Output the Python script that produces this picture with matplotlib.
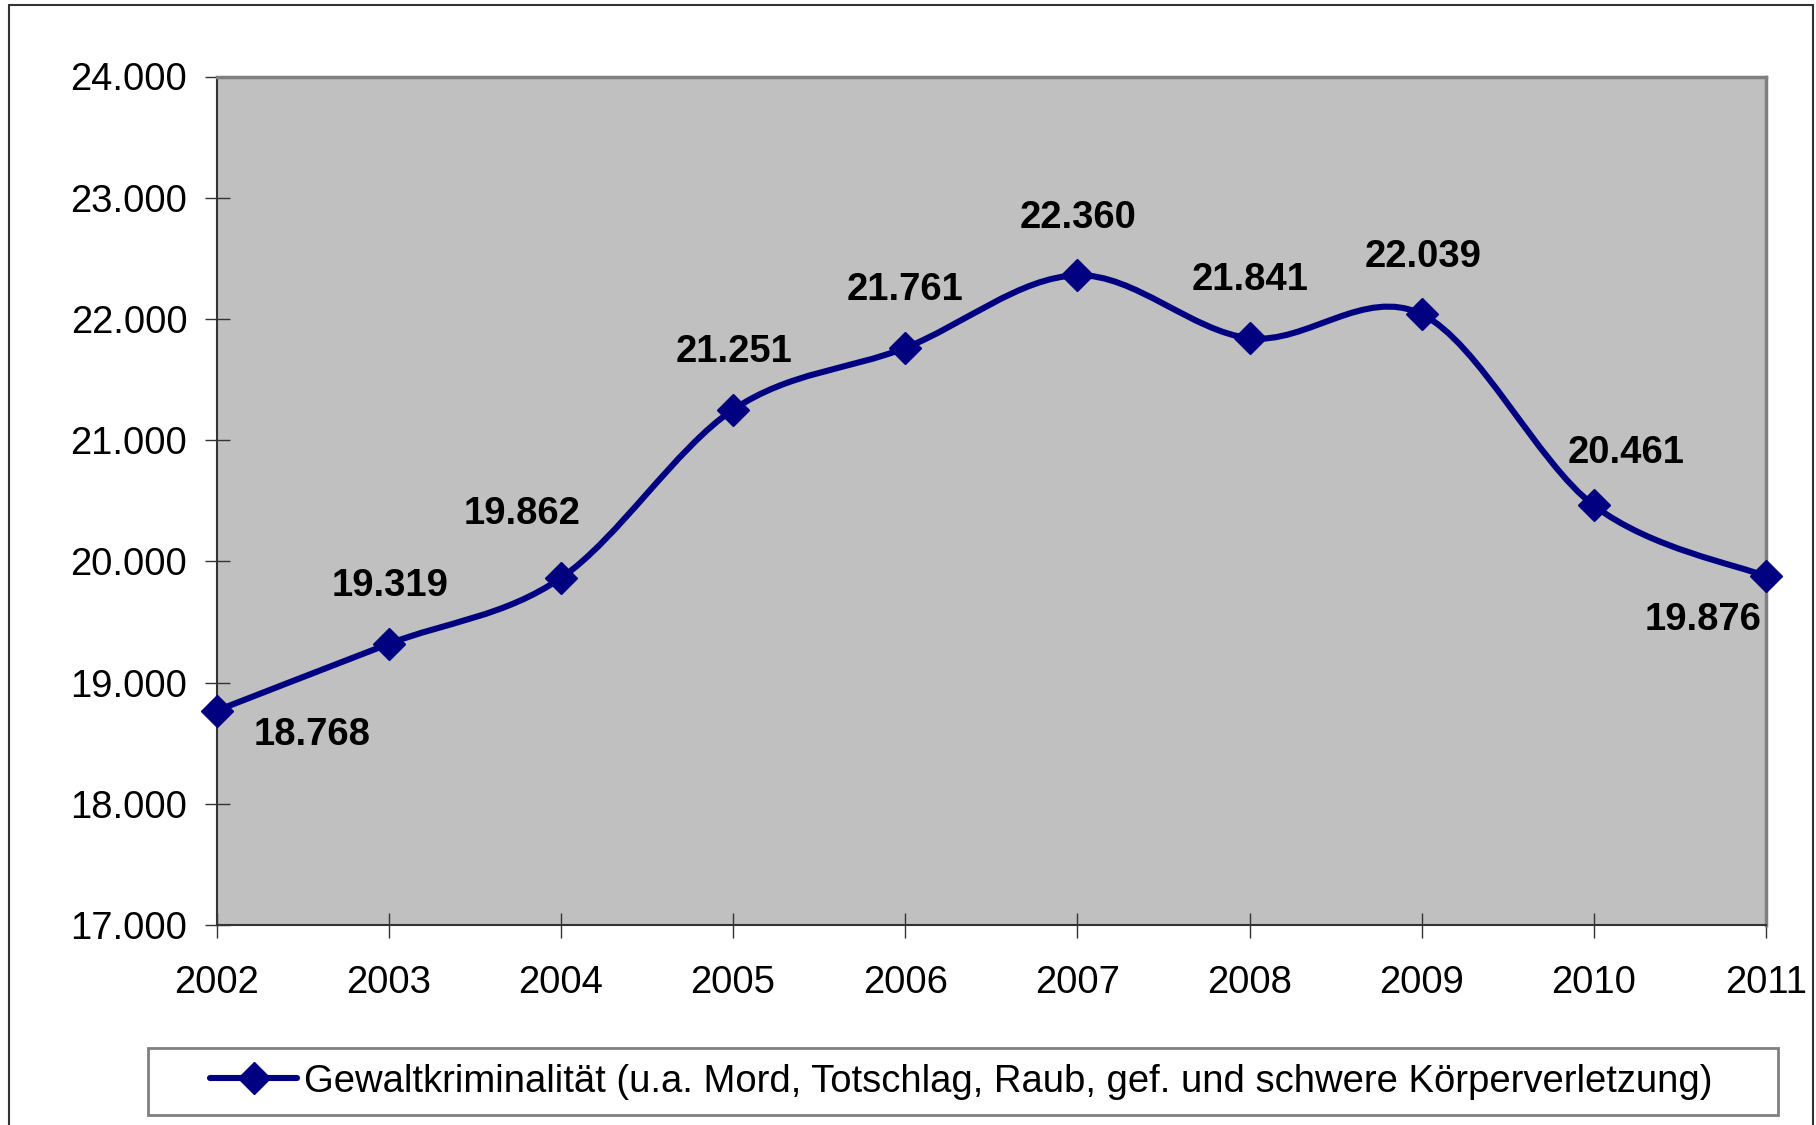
import matplotlib
matplotlib.use("Agg")
import matplotlib.pyplot as plt
from matplotlib.path import Path
from matplotlib.patches import PathPatch, Rectangle
from matplotlib.lines import Line2D
from matplotlib.ticker import FuncFormatter

years = [2002, 2003, 2004, 2005, 2006, 2007, 2008, 2009, 2010, 2011]
cases = [18768, 19319, 19862, 21251, 21761, 22360, 21841, 22039, 20461, 19876]
label_text = "Gewaltkriminalität (u.a. Mord, Totschlag, Raub, gef. und schwere Körperverletzung)"
# where Excel put each data label, offset from the point in pixels
label_offsets = [(96, -24), (1, 58), (-39, 64), (1, 58), (0, 58),
                 (1, 57), (1, 58), (1, 57), (32, 52), (-63, -44)]

navy = "#000080"
fs = 27.5
plt.rcParams['font.family'] = ['Liberation Sans', 'DejaVu Sans']

fig = plt.figure(figsize=(18.16, 11.25), dpi=100)
ax = fig.add_axes([216.5/1816, 1-925/1125, (1766-216.5)/1816, (925-76.5)/1125])
ax.set_facecolor("#c0c0c0")

# outer chart border
fig.patches.append(Rectangle((8.5/1816, -0.05), (1813-8.5)/1816, 1.05-5/1125,
                             transform=fig.transFigure, fill=False,
                             edgecolor="#333333", linewidth=1.5))

# smoothed line like Excel (cubic bezier through the points)
verts = [(years[0], cases[0])]
codes = [Path.MOVETO]
n = len(years)
for i in range(n-1):
    p0 = (years[max(i-1, 0)], cases[max(i-1, 0)])
    p1 = (years[i], cases[i])
    p2 = (years[i+1], cases[i+1])
    p3 = (years[min(i+2, n-1)], cases[min(i+2, n-1)])
    c1 = (p1[0] + (p2[0]-p0[0])/6, p1[1] + (p2[1]-p0[1])/6)
    c2 = (p2[0] - (p3[0]-p1[0])/6, p2[1] - (p3[1]-p1[1])/6)
    verts += [c1, c2, p2]
    codes += [Path.CURVE4]*3
ax.add_patch(PathPatch(Path(verts, codes), facecolor="none", edgecolor=navy,
                       linewidth=4.4, capstyle="round", zorder=3))
ax.plot(years, cases, linestyle="none", marker="D", markersize=16,
        color=navy, clip_on=False, zorder=4)

for x, y, (dx, dy) in zip(years, cases, label_offsets):
    ax.annotate(f"{y:,}".replace(",", "."), (x, y), xytext=(dx, dy),
                textcoords="offset pixels", ha="center", va="center",
                fontsize=fs, fontweight="bold", zorder=5)

ax.set_xlim(2002, 2011)
ax.set_ylim(17000, 24000)
ax.set_xticks(years)
ax.set_yticks(range(17000, 24001, 1000))
ax.yaxis.set_major_formatter(FuncFormatter(lambda v, p: f"{int(v):,}".replace(",", ".")))
ax.tick_params(direction="inout", length=18, width=1, color="#333333",
               labelsize=fs)
ax.tick_params(axis="y", pad=12)
ax.tick_params(axis="x", pad=20)

for s in ["top", "right"]:
    ax.spines[s].set_color("#808080")
    ax.spines[s].set_linewidth(2.5)
for s in ["left", "bottom"]:
    ax.spines[s].set_color("#333333")
    ax.spines[s].set_linewidth(1.5)

# legend box drawn separately so its size matches the original
fig.patches.append(Rectangle((148/1816, 1-1115/1125), 1630/1816, 67/1125,
                             transform=fig.transFigure, fill=False,
                             edgecolor="#808080", linewidth=2))
handle = Line2D([], [], color=navy, linewidth=4.4, marker="D", markersize=16,
                solid_capstyle="round")
fig.legend([handle], [label_text], loc="center left",
           bbox_to_anchor=(210/1816, 1-1081.5/1125), fontsize=fs,
           frameon=False, handlelength=2.28, handletextpad=0.18,
           borderpad=0, borderaxespad=0)

fig.savefig("out.png", dpi=100)
